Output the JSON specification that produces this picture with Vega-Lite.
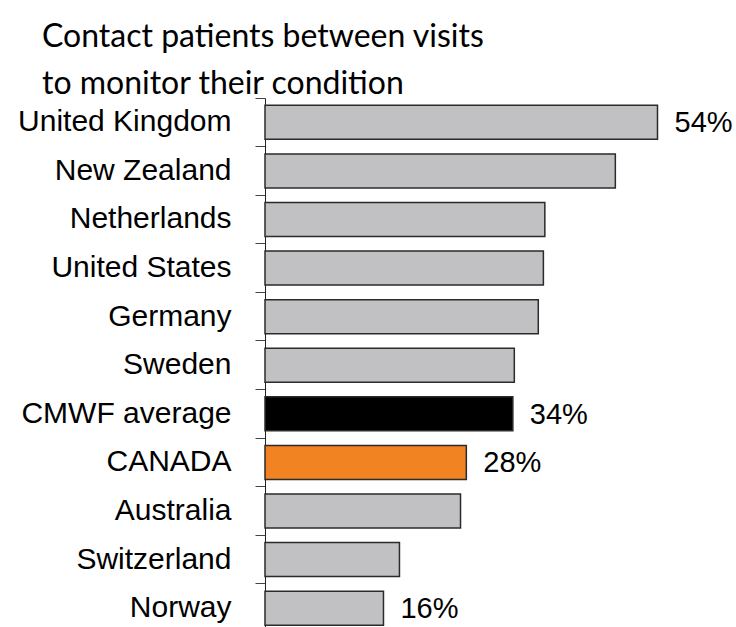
{
  "$schema": "https://vega.github.io/schema/vega-lite/v6.json",
  "autosize": "none",
  "width": 471,
  "height": 534.5,
  "padding": {"left": 265, "top": 98, "right": 0, "bottom": 0},
  "background": "white",
  "config": {"view": {"stroke": null}},
  "title": {
    "text": ["Contact patients between visits", "to monitor their condition"],
    "anchor": "start",
    "frame": "group",
    "dx": -223,
    "offset": -3,
    "font": "Lato",
    "fontSize": 32,
    "fontWeight": "normal",
    "lineHeight": 47,
    "color": "black"
  },
  "data": {
    "values": [
      {"country": "United Kingdom", "value": 0.54, "kind": "other", "labeled": true},
      {"country": "New Zealand", "value": 0.482, "kind": "other", "labeled": false},
      {"country": "Netherlands", "value": 0.385, "kind": "other", "labeled": false},
      {"country": "United States", "value": 0.383, "kind": "other", "labeled": false},
      {"country": "Germany", "value": 0.376, "kind": "other", "labeled": false},
      {"country": "Sweden", "value": 0.343, "kind": "other", "labeled": false},
      {"country": "CMWF average", "value": 0.341, "kind": "average", "labeled": true},
      {"country": "CANADA", "value": 0.277, "kind": "canada", "labeled": true},
      {"country": "Australia", "value": 0.269, "kind": "other", "labeled": false},
      {"country": "Switzerland", "value": 0.185, "kind": "other", "labeled": false},
      {"country": "Norway", "value": 0.163, "kind": "other", "labeled": true}
    ]
  },
  "encoding": {
    "y": {
      "field": "country",
      "type": "nominal",
      "sort": null,
      "scale": {"paddingInner": 0, "paddingOuter": 0},
      "axis": {
        "title": null,
        "bandPosition": 0,
        "domainColor": "#222222",
        "domainWidth": 1,
        "tickColor": "#444444",
        "tickSize": 10,
        "tickWidth": 1,
        "labelFont": "Liberation Sans",
        "labelFontSize": 30,
        "labelColor": "black",
        "labelPadding": 24,
        "labelLimit": 300
      }
    },
    "x": {
      "field": "value",
      "type": "quantitative",
      "scale": {"domain": [0, 0.648]},
      "axis": null
    }
  },
  "layer": [
    {
      "mark": {"type": "bar", "height": {"band": 0.7}, "stroke": "#2b2b2b", "strokeWidth": 1.5},
      "encoding": {
        "color": {
          "field": "kind",
          "type": "nominal",
          "scale": {"domain": ["other", "average", "canada"], "range": ["#C1C1C3", "#000000", "#F28322"]},
          "legend": null
        }
      }
    },
    {
      "transform": [{"filter": "datum.labeled"}],
      "mark": {"type": "text", "align": "left", "baseline": "middle", "dx": 17, "dy": 1, "font": "Liberation Sans", "fontSize": 29, "color": "black"},
      "encoding": {
        "text": {"field": "value", "type": "quantitative", "format": ".0%"}
      }
    }
  ]
}
